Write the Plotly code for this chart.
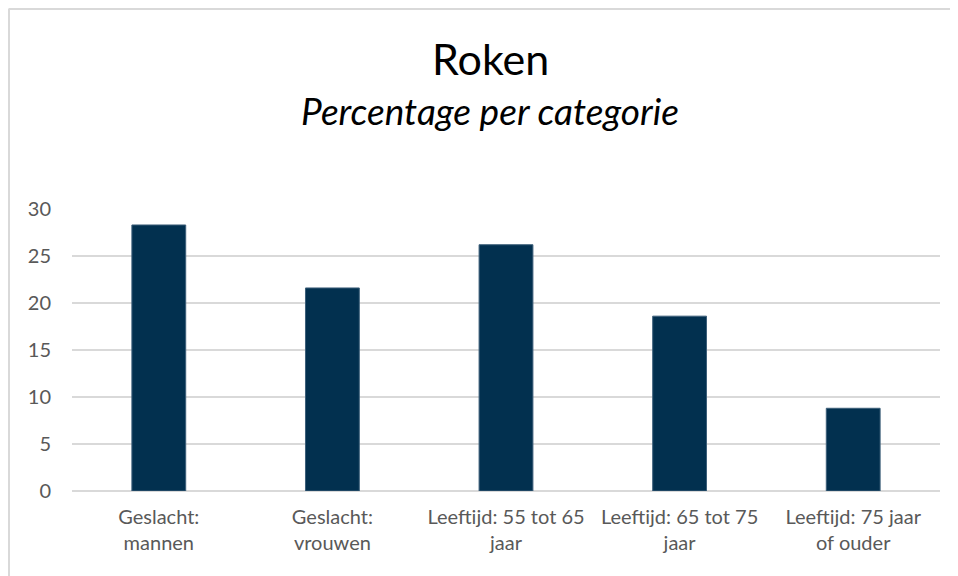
import plotly.graph_objects as go

categories = ["Geslacht:<br>mannen", "Geslacht:<br>vrouwen", "Leeftijd: 55 tot 65<br>jaar",
              "Leeftijd: 65 tot 75<br>jaar", "Leeftijd: 75 jaar<br>of ouder"]
values = [28.3, 21.6, 26.2, 18.6, 8.8]
y_ticks = [0, 5, 10, 15, 20, 25, 30]

# the page body has an 8px default margin; work in page pixel coordinates
OFF = 8
W, H = 958 - OFF, 576 - OFF
L, R, T, B = 72 - OFF, 18, 209 - OFF, 85
pw, ph = W - L - R, H - T - B

def px(x):
    return (x - OFF - L) / pw

def py(y):
    return (H - B - (y - OFF)) / ph

fig = go.Figure()
fig.add_trace(go.Bar(
    x=categories, y=values,
    marker=dict(color="#02304f", line=dict(color="#3d5f7a", width=1)),
    width=0.31,
))

font_main = "Lato, 'Open Sans', sans-serif"
fig.update_layout(
    width=W, height=H,
    margin=dict(l=L, r=R, t=T, b=B),
    paper_bgcolor="white", plot_bgcolor="white",
    showlegend=False,
    font=dict(family=font_main, color="#595959"),
    xaxis=dict(showgrid=False, showline=False, ticks="", tickfont=dict(size=20, color="#595959"),
               ticklabelstandoff=12),
    yaxis=dict(range=[0, 30], tickvals=y_ticks, showgrid=True, gridcolor="#d9d9d9", gridwidth=1.5,
               zeroline=True, zerolinecolor="#d9d9d9", zerolinewidth=1.5, showline=False,
               tickfont=dict(size=20, color="#595959"), ticklabelstandoff=20),
    annotations=[
        dict(text="Roken", x=px(490), y=py(58), xref="paper", yref="paper",
             showarrow=False, font=dict(size=43, color="#000000", family=font_main),
             xanchor="center", yanchor="middle"),
        dict(text="<i>Percentage per categorie</i>", x=px(490), y=py(110), xref="paper", yref="paper",
             showarrow=False, font=dict(size=37, color="#000000", family=font_main),
             xanchor="center", yanchor="middle"),
    ],
    shapes=[
        dict(type="line", xref="paper", yref="paper", x0=px(8.5), x1=px(958), y0=py(9), y1=py(9),
             line=dict(color="#d9d9d9", width=2)),
        dict(type="line", xref="paper", yref="paper", x0=px(9), x1=px(9), y0=py(9), y1=py(576),
             line=dict(color="#d9d9d9", width=2)),
    ],
)

fig.write_html("out.html")
